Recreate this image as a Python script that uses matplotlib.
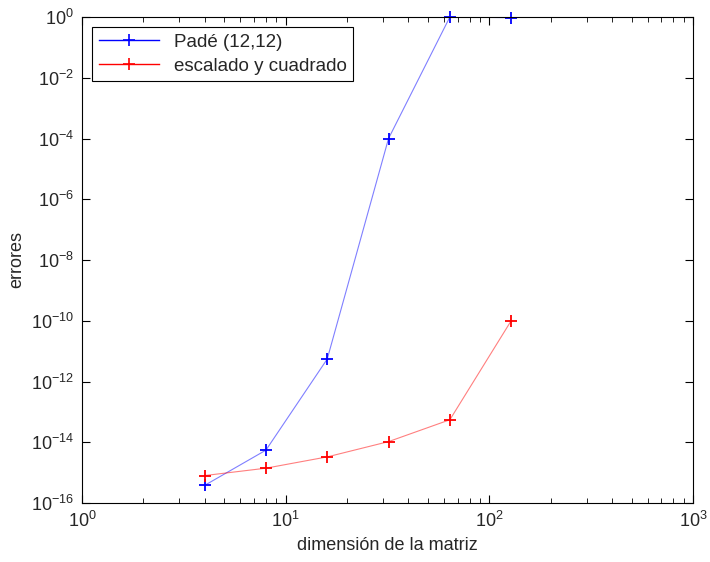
import matplotlib
matplotlib.use('Agg')
import matplotlib.pyplot as plt
from matplotlib.ticker import LogLocator, NullLocator, NullFormatter

plt.rcParams['font.family'] = ['Liberation Sans', 'DejaVu Sans']
texto = '#262626'

# Datos
dimension = [4, 8, 16, 32, 64, 128]
error_pade = [3.8e-16, 5.5e-15, 5.5e-12, 1.0e-4, 1.0, 0.95]
error_escalado = [8e-16, 1.4e-15, 3.3e-15, 1.05e-14, 5.5e-14, 1.0e-10]

fig = plt.figure(figsize=(7.1, 5.62), dpi=100)
ax = fig.add_axes([82/710, 1 - 503/562, (693 - 82)/710, (503 - 17)/562])

ax.loglog(dimension, error_pade, color='blue', lw=0.8, alpha=0.5)
ax.loglog(dimension, error_escalado, color='red', lw=0.8, alpha=0.5)
ax.loglog(dimension, error_pade, ls='none', marker='+', ms=9, mew=1.3, color='blue', clip_on=False)
ax.loglog(dimension, error_escalado, ls='none', marker='+', ms=9, mew=1.3, color='red', clip_on=False)

# entradas de leyenda
ax.plot([], [], color='blue', lw=1, marker='+', ms=9, mew=1.2, label='Padé (12,12)')
ax.plot([], [], color='red', lw=1, marker='+', ms=9, mew=1.2, label='escalado y cuadrado')

ax.set_xlim(1, 1000)
ax.set_ylim(1e-16, 1)
ax.yaxis.set_major_locator(LogLocator(base=100.0, numticks=20))
ax.yaxis.set_minor_locator(NullLocator())
ax.yaxis.set_minor_formatter(NullFormatter())
ax.xaxis.set_minor_locator(LogLocator(base=10.0, subs=range(2, 10), numticks=20))
ax.xaxis.set_minor_formatter(NullFormatter())

ax.tick_params(which='both', direction='in', top=True, right=True, labelsize=13, pad=6,
               labelcolor=texto)
ax.tick_params(which='major', length=6)
ax.tick_params(which='minor', length=3.5)
for s in ax.spines.values():
    s.set_linewidth(0.8)

ax.set_xlabel('dimensión de la matriz', fontsize=13, labelpad=4, color=texto)
ax.set_ylabel('errores', fontsize=13, labelpad=4, color=texto)

leg = ax.legend(loc='upper left', fontsize=13.5, fancybox=False, edgecolor='black',
                framealpha=1, borderaxespad=0.55, handlelength=3.2, borderpad=0.35,
                labelspacing=0.35)
leg.get_frame().set_linewidth(0.8)
for t in leg.get_texts():
    t.set_color(texto)

fig.savefig('out.png', dpi=100)
